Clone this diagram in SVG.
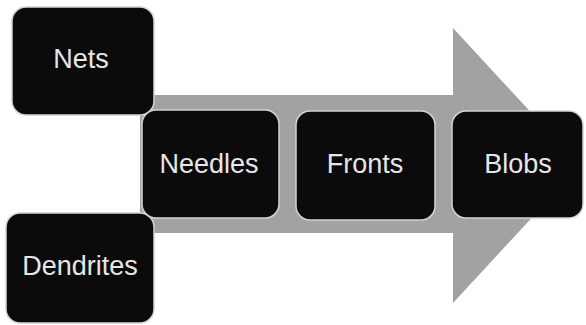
<svg xmlns="http://www.w3.org/2000/svg" width="586" height="325" viewBox="0 0 586 325">
  <defs>
    <style>
      .box { fill: #0b0b0b; stroke: #d4d4d4; stroke-width: 1.5; }
      .lbl { font-family: "Liberation Sans", Arial, sans-serif; font-size: 27px; fill: #e6e6e6; text-anchor: middle; }
      .arrow { fill: #a2a2a2; }
    </style>
  </defs>
  <rect width="586" height="325" fill="#ffffff"/>
  <g id="connectors">
    <polygon class="arrow" points="140,95 453,95 453,28 580,165.5 453,303 453,233 140,233"/>
  </g>
  <g id="node-nets">
    <rect class="box" x="12" y="7" width="142" height="108" rx="14" ry="14"/>
    <text class="lbl" x="81" y="68">Nets</text>
  </g>
  <g id="node-dendrites">
    <rect class="box" x="6" y="213" width="148" height="110" rx="14" ry="14"/>
    <text class="lbl" x="80" y="275">Dendrites</text>
  </g>
  <g id="node-needles">
    <rect class="box" x="142" y="110" width="137" height="108" rx="14" ry="14"/>
    <text class="lbl" x="209" y="173">Needles</text>
  </g>
  <g id="node-fronts">
    <rect class="box" x="296" y="111" width="139" height="109" rx="14" ry="14"/>
    <text class="lbl" x="365" y="173">Fronts</text>
  </g>
  <g id="node-blobs">
    <rect class="box" x="452" y="111" width="131" height="107" rx="14" ry="14"/>
    <text class="lbl" x="518" y="173">Blobs</text>
  </g>
</svg>
